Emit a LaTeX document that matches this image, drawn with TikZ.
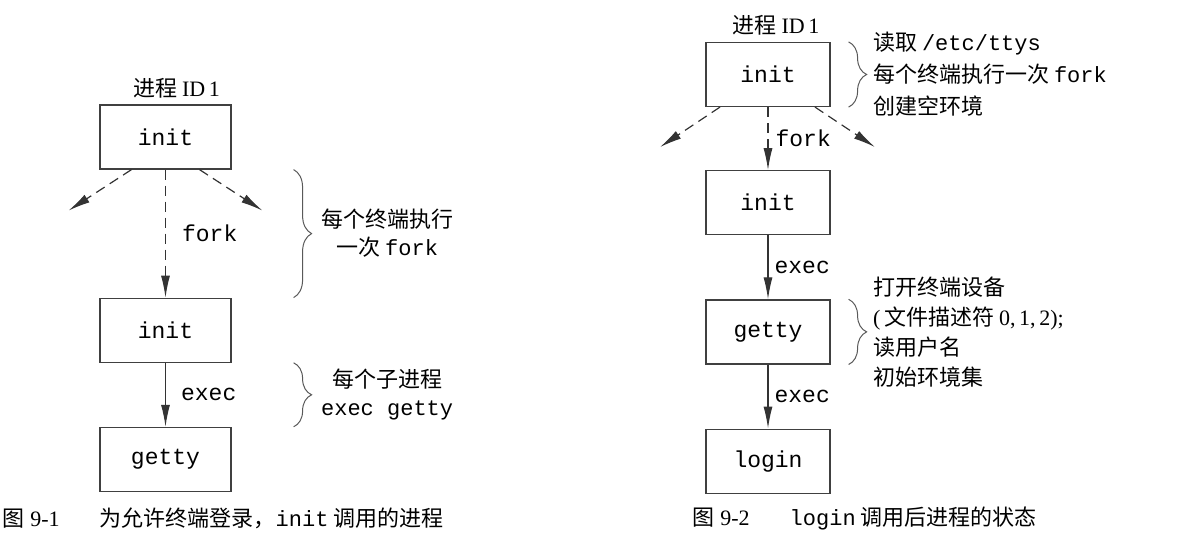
\documentclass[tikz,border=0pt]{standalone}
\usepackage{fontspec}
\setmainfont{Liberation Serif}
\setmonofont{Liberation Mono}
\newfontfamily\cjk{Noto Sans CJK SC}
\usetikzlibrary{arrows.meta, positioning, decorations.pathreplacing}

\begin{document}
\begin{tikzpicture}[
    x=0.5pt, y=-0.5pt,
    proc/.style={draw=black!75, line width=0.6pt, minimum width=62pt,
                 minimum height=32pt, inner sep=0pt,
                 font=\fontsize{11.5}{14}\selectfont\ttfamily},
    arr/.style={-{Latex[length=11pt,width=4.5pt]}, line width=0.6pt, draw=black!80},
    forkarr/.style={arr, dash pattern=on 5pt off 3pt},
    lab/.style={inner sep=0pt, font=\fontsize{11.5}{14}\selectfont\ttfamily},
    brace/.style={decorate, decoration={brace, amplitude=9pt},
                  draw=black!65, line width=0.5pt},
    note/.style={inner sep=0pt, font=\fontsize{11}{14}\selectfont\cjk},
    figcap/.style={note, anchor=west},
    node distance=32pt
]
    \useasboundingbox (0,0) rectangle (1190,551);

    % fig 9-1
    \begin{scope}[proc/.append style={minimum width=65.5pt}]
    \node[proc] (li1) at (165.5,137) {init};
    \node[proc, below=64pt of li1] (li2) {init};
    \node[proc, below=of li2] (lget) {getty};
    \end{scope}
    \node[note, above=3pt of li1, xshift=5.5pt] (lid) {进程 {\rmfamily ID\,1}};

    \coordinate[below left=20.5pt and 48.5pt of li1.south] (lf1);
    \coordinate[below right=20.5pt and 48.5pt of li1.south] (lf2);
    \draw[forkarr] ([xshift=-17pt]li1.south) -- (lf1);
    \draw[forkarr] ([xshift=17pt]li1.south) -- (lf2);
    \draw[forkarr] (li1) -- node[lab, right=8pt] {fork} (li2);
    \draw[arr] (li2) -- node[lab, right=7.5pt] {exec} (lget);

    \draw[brace] ([xshift=31pt]li1.south east) -- node[note, right=13.5pt, align=center]
        {每个终端执行\\一次 \texttt{fork}} ([xshift=31pt]li2.north east);
    \draw[brace] ([xshift=31pt]li2.south east) -- node[note, right=13.5pt, align=center]
        {每个子进程\\\texttt{exec getty}} ([xshift=31pt]lget.north east);

    \node[figcap] (lcap) at (2,518)
        {图\hspace{3pt}{\rmfamily 9-1}\hspace{20pt}为允许终端登录，\texttt{init} 调用的进程};

    % fig 9-2
    \node[proc] (ri1) at (768,74.5) {init};
    \node[proc, below=31.5pt of ri1] (ri2) {init};
    \node[proc, below=of ri2] (rget) {getty};
    \node[proc, below=of rget] (rlog) {login};
    \node[note, above=3pt of ri1, xshift=4pt] (rid) {进程 {\rmfamily ID\,1}};

    \coordinate[below left=20pt and 54pt of ri1.south] (rf1);
    \coordinate[below right=20pt and 53.5pt of ri1.south] (rf2);
    \draw[forkarr] ([xshift=-24pt]ri1.south) -- (rf1);
    \draw[forkarr] ([xshift=23.5pt]ri1.south) -- (rf2);
    \draw[forkarr] (ri1) -- node[lab, right=3.5pt] {fork} (ri2);
    \draw[arr] (ri2) -- node[lab, right=3pt] {exec} (rget);
    \draw[arr] (rget) -- node[lab, right=3pt] {exec} (rlog);

    \draw[brace] ([xshift=9pt]ri1.north east) -- node[note, right=12pt, align=left,
        font=\fontsize{11}{16}\selectfont\cjk]
        {读取 \texttt{/etc/ttys}\\每个终端执行一次 \texttt{fork}\\创建空环境}
        ([xshift=9pt]ri1.south east);
    \draw[brace] ([xshift=9pt]rget.north east) -- node[note, right=12pt, align=left,
        font=\fontsize{11}{15}\selectfont\cjk]
        {打开终端设备\\{\rmfamily(}\,文件描述符 {\rmfamily 0,\,1,\,2);}\\读用户名\\初始环境集}
        ([xshift=9pt]rget.south east);

    \node[figcap] (rcap) at (692,518)
        {图\hspace{3pt}{\rmfamily 9-2}\hspace{20pt}\texttt{login} 调用后进程的状态};
\end{tikzpicture}
\end{document}
